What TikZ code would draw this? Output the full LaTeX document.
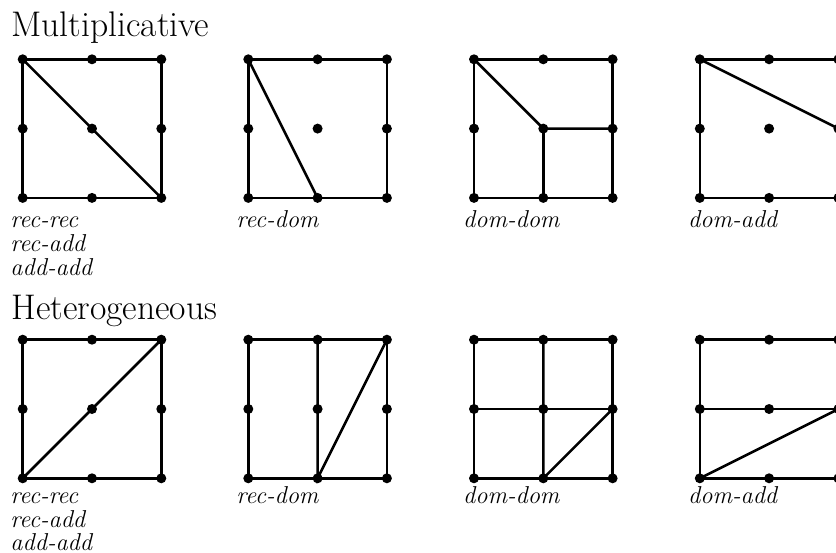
\documentclass[tikz,border=0pt]{standalone}
\begin{document}
\begin{tikzpicture}[x=0.5pt,y=-0.5pt,
  edge/.style={line width=1.3pt},
  dot/.style={fill=black},
  title/.style={anchor=base west,inner sep=0pt,font=\fontsize{17.8}{20}\selectfont},
  lab/.style={anchor=base west,inner sep=0pt,font=\fontsize{12.2}{12}\selectfont\itshape}]
\useasboundingbox (0,0) rectangle (836,552);
\def\s{69.3}
\foreach \p/\x/\y in {M1/22.7/59.3, M2/248.3/59.3, M3/474/59.3, M4/699.8/59.3,
                      H1/22.7/339.7, H2/248.3/339.7, H3/474/339.7, H4/699.8/339.7} {
  \foreach \i in {0,1,2} {
    \foreach \j in {0,1,2} {
      \coordinate (\p-\i\j) at (\x+\i*\s, \y+\j*\s);
    }
  }
}
% outer squares
\foreach \p in {M1,M2,M3,M4,H1,H2,H3,H4}
  \draw[edge] (\p-00) -- (\p-20) -- (\p-22) -- (\p-02) -- cycle;
% Multiplicative
\draw[edge] (M1-00) -- (M1-22);
\draw[edge] (M2-00) -- (M2-12);
\draw[edge] (M3-00) -- (M3-11) -- (M3-21);
\draw[edge] (M3-11) -- (M3-12);
\draw[edge] (M4-00) -- (M4-21);
% Heterogeneous
\draw[edge] (H1-02) -- (H1-20);
\draw[edge] (H2-10) -- (H2-12) -- (H2-20);
\draw[edge] (H3-10) -- (H3-12) -- (H3-21);
\draw[edge] (H3-01) -- (H3-21);
\draw[edge] (H4-01) -- (H4-21);
\draw[edge] (H4-02) -- (H4-21);
% dots
\foreach \p in {M1,M2,M3,M4,H1,H2,H3,H4}
  \foreach \i in {0,1,2}
    \foreach \j in {0,1,2}
      \fill[dot] (\p-\i\j) circle[radius=2.5pt];
% titles
\node[title] (tM) at (11,36.7) {Multiplicative};
\node[title] (tH) at (11,319.5) {Heterogeneous};
% labels
\node[lab] (lM1a) at (10,227) {rec-rec};
\node[lab] (lM1b) at (10,251.5) {rec-add};
\node[lab] (lM1c) at (10,275.5) {add-add};
\node[lab] (lM2) at (236,227) {rec-dom};
\node[lab] (lM3) at (462.7,227) {dom-dom};
\node[lab] (lM4) at (687.7,227) {dom-add};
\node[lab] (lH1a) at (10,503) {rec-rec};
\node[lab] (lH1b) at (10,527) {rec-add};
\node[lab] (lH1c) at (10,550) {add-add};
\node[lab] (lH2) at (236,503) {rec-dom};
\node[lab] (lH3) at (462.7,503) {dom-dom};
\node[lab] (lH4) at (687.7,503) {dom-add};
\end{tikzpicture}
\end{document}
